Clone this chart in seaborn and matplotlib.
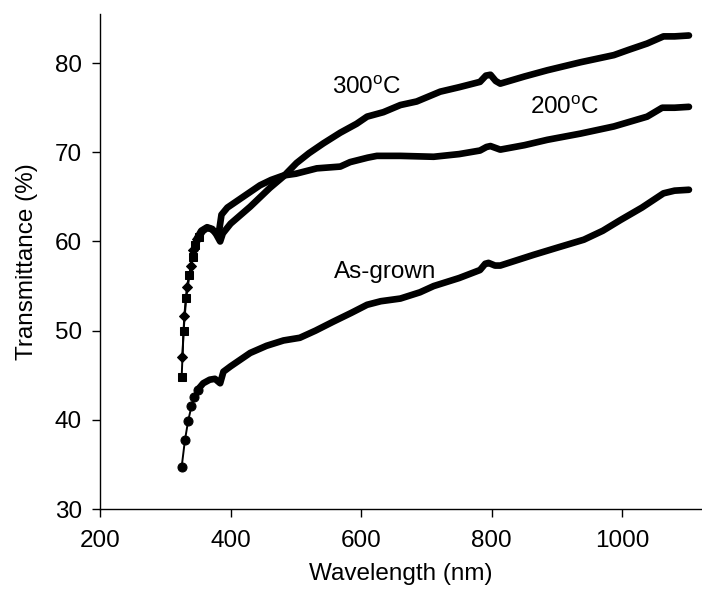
import numpy as np
import pandas as pd
import matplotlib
matplotlib.use("Agg")
import matplotlib.pyplot as plt
import seaborn as sns

# ---- data ----
wl_300 = [326, 329, 333, 339, 343, 348, 355, 364, 372, 378, 384, 388, 400, 430, 460, 481,
          501, 520, 542, 568, 593, 609, 634, 660, 685, 721, 750, 782, 791, 798, 806, 813,
          850, 885, 936, 987, 1010, 1038, 1063, 1080, 1102]
t_300 = [47.0, 51.6, 54.9, 57.2, 59.0, 60.3, 61.2, 61.6, 61.4, 60.8, 60.0, 60.9, 62.0, 63.9, 66.0, 67.3,
         68.8, 69.9, 71.0, 72.2, 73.2, 74.0, 74.5, 75.3, 75.7, 76.8, 77.3, 77.9, 78.6, 78.7, 78.0, 77.7,
         78.5, 79.2, 80.1, 80.9, 81.5, 82.2, 83.0, 83.0, 83.1]

wl_200 = [325, 328, 332, 337, 342, 346, 351, 358, 364, 370, 376, 382, 386, 395, 409, 425, 445,
          462, 481, 500, 532, 568, 583, 610, 624, 660, 711, 750, 782, 792, 798, 813, 850, 885,
          936, 987, 1038, 1061, 1080, 1102]
t_200 = [44.8, 50.0, 53.7, 56.2, 58.3, 59.6, 60.5, 61.2, 61.5, 61.4, 61.1, 61.0, 63.0, 63.8, 64.5, 65.3, 66.3,
         66.9, 67.4, 67.6, 68.2, 68.4, 68.9, 69.4, 69.6, 69.6, 69.5, 69.8, 70.2, 70.6, 70.7, 70.3, 70.8, 71.4,
         72.1, 72.9, 74.0, 75.0, 75.0, 75.1]

wl_asg = [325, 330, 335, 340, 344, 350, 358, 368, 376, 384, 389, 400, 430, 455, 481, 506, 530,
          557, 585, 609, 630, 660, 690, 711, 750, 782, 790, 795, 805, 813, 864, 900, 941, 970,
          997, 1030, 1063, 1080, 1102]
t_asg = [34.7, 37.7, 39.9, 41.5, 42.6, 43.4, 44.1, 44.5, 44.6, 44.1, 45.4, 46.0, 47.5, 48.3, 48.9, 49.2, 50.0,
         51.0, 52.0, 52.9, 53.3, 53.6, 54.3, 55.0, 55.9, 56.8, 57.5, 57.6, 57.3, 57.3, 58.5, 59.3, 60.2, 61.2,
         62.4, 63.8, 65.4, 65.7, 65.8]

labels = ["300$^{\\mathrm{o}}$C", "200$^{\\mathrm{o}}$C", "As-grown"]
label_pos = [(609, 77.2), (911, 75.0), (637, 56.6)]

x_ticks = [200, 400, 600, 800, 1000]
y_ticks = [30, 40, 50, 60, 70, 80]

sns.set_style("ticks")
plt.rcParams['font.family'] = ['Liberation Sans', 'DejaVu Sans']
plt.rcParams['mathtext.fontset'] = 'custom'
plt.rcParams['mathtext.rm'] = 'Liberation Sans'
plt.rcParams['mathtext.it'] = 'Liberation Sans'
plt.rcParams['text.color'] = 'black'
plt.rcParams['axes.labelcolor'] = 'black'
plt.rcParams['xtick.color'] = 'black'
plt.rcParams['ytick.color'] = 'black'

fig = plt.figure(figsize=(7.02, 5.92), dpi=100)
ax = fig.add_axes([0.1425, 0.1402, 0.8575, 0.836])

series = [
    (wl_300, t_300, "D", 5.0, 352),
    (wl_200, t_200, "s", 5.5, 352),
    (wl_asg, t_asg, "o", 6.5, 352),
]
for wl, t, mk, ms, start in series:
    df = pd.DataFrame({"wl": wl, "T": t})
    steep_idx = [i for i, w in enumerate(wl) if w < start]
    sns.lineplot(data=df, x="wl", y="T", ax=ax, color="black", lw=1.4,
                 marker=mk, markersize=ms, markeredgecolor="black",
                 markerfacecolor="black", markevery=steep_idx,
                 estimator=None, sort=False)
    thick = df[df["wl"] >= start - 4]
    sns.lineplot(data=thick, x="wl", y="T", ax=ax, color="black", lw=4.8,
                 estimator=None, sort=False, solid_capstyle="round",
                 solid_joinstyle="round")

for txt, (x, y) in zip(labels, label_pos):
    ax.text(x, y, txt, ha="center", va="center", fontsize=17.5, color="black")

ax.set_xlim(200, 1122)
ax.set_ylim(30, 85.5)
ax.set_xticks(x_ticks)
ax.set_yticks(y_ticks)
ax.tick_params(axis="both", direction="out", length=6, width=1, colors="black",
               labelsize=17.5)
ax.tick_params(axis="x", pad=9)
ax.tick_params(axis="y", pad=7)
for s in ["top", "right"]:
    ax.spines[s].set_visible(False)
for s in ["left", "bottom"]:
    ax.spines[s].set_color("black")
    ax.spines[s].set_linewidth(1)
ax.set_xlabel("Wavelength (nm)", fontsize=17.5, labelpad=8, color="black")
ax.set_ylabel("Transmittance (%)", fontsize=17.5, labelpad=12, color="black")

fig.savefig("out.png", dpi=100, facecolor="white")
